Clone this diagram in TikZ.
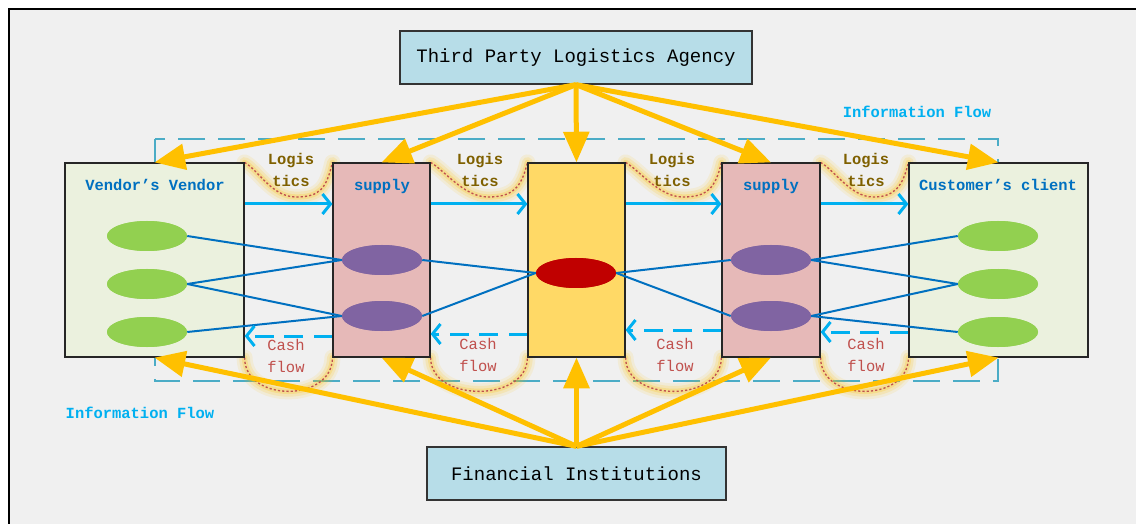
\documentclass[tikz,border=0pt]{standalone}
\usepackage{fontspec}
\newfontfamily\mono{Liberation Mono}
\usetikzlibrary{arrows.meta,shapes.geometric,calc}
\definecolor{bgc}{HTML}{F0F0F0}
\definecolor{boxblue}{HTML}{B7DDE8}
\definecolor{panelgreen}{HTML}{EBF1DE}
\definecolor{panelpink}{HTML}{E6B9B8}
\definecolor{panelyellow}{HTML}{FFD966}
\definecolor{ellgreen}{HTML}{92D050}
\definecolor{ellpurple}{HTML}{8064A2}
\definecolor{ellred}{HTML}{C00000}
\definecolor{linkblue}{HTML}{0070C0}
\definecolor{flowcyan}{HTML}{00B0F0}
\definecolor{dashblue}{HTML}{4BACC6}
\definecolor{goldarrow}{HTML}{FFC000}
\definecolor{logbrown}{HTML}{7F6000}
\definecolor{cashred}{HTML}{C0504D}
\newcommand\GlowDraw[1]{%
  \draw[glowA] #1; \draw[glowB] #1; \draw[glowC] #1; \draw[dotred] #1;}
\begin{document}
\begin{tikzpicture}[x=0.75pt,y=-0.75pt,
  bigbox/.style={draw=black!80, line width=1pt, fill=boxblue, minimum height=39.75pt,
    inner sep=0pt, font=\mono\fontsize{14.25}{17}\selectfont},
  panel/.style={draw=black!85, line width=0.9pt, minimum height=145.5pt, inner sep=0pt},
  greenell/.style={ellipse, fill=ellgreen, minimum width=60pt, minimum height=22.5pt, inner sep=0pt},
  purpleell/.style={ellipse, fill=ellpurple, minimum width=60pt, minimum height=22.5pt, inner sep=0pt},
  redell/.style={ellipse, fill=ellred, minimum width=60pt, minimum height=22.5pt, inner sep=0pt},
  link/.style={draw=linkblue, line width=1.5pt},
  fwd/.style={draw=flowcyan, line width=2.25pt, -{Straight Barb[length=6pt,width=15pt]}},
  back/.style={draw=flowcyan, line width=2.25pt, dash pattern=on 14pt off 8pt,
    -{Straight Barb[length=6pt,width=15pt]}},
  gold/.style={draw=goldarrow, line width=3.75pt, -{Triangle[length=23pt,width=19pt]}},
  infodash/.style={draw=dashblue, line width=1.1pt, dash pattern=on 20pt off 10pt},
  glowA/.style={draw=goldarrow, line width=12pt, opacity=0.10, line cap=round},
  glowB/.style={draw=goldarrow, line width=8pt, opacity=0.15, line cap=round},
  glowC/.style={draw=goldarrow, line width=4pt, opacity=0.22, line cap=round},
  dotred/.style={draw=cashred, line width=1pt, dash pattern=on 1.6pt off 1.6pt},
  panellabel/.style={font=\mono\bfseries\fontsize{11.6}{14}\selectfont, text=linkblue},
  infolabel/.style={font=\mono\bfseries\fontsize{11.6}{14}\selectfont, text=flowcyan},
  loglabel/.style={font=\mono\bfseries\fontsize{11.6}{16.5}\selectfont, text=logbrown, align=center, inner sep=0pt},
  cashlabel/.style={font=\mono\fontsize{11.6}{16}\selectfont, text=cashred, align=center, inner sep=0pt}
]
% background and frame
\useasboundingbox (0,0) rectangle (1136,524);
\fill[white] (0,0) rectangle (1136,524);
\fill[bgc] (9,9) rectangle (1136,524);
\draw[black, line width=1.5pt] (9,524) -- (9,9) -- (1136,9);

% information-flow dashed frame
\draw[infodash] (155,139) rectangle (998,381);

% panels (positions)
\node[panel, fill=panelgreen, minimum width=134.25pt] (vv) at (154.5,260) {};
\node[panel, fill=panelpink, minimum width=72.75pt] (s1) at (381.5,260) {};
\node[panel, fill=panelyellow, minimum width=72.75pt] (mid) at (576.5,260) {};
\node[panel, fill=panelpink, minimum width=73.5pt] (s2) at (771,260) {};
\node[panel, fill=panelgreen, minimum width=134.25pt] (cc) at (998.5,260) {};

% logistics and cash-flow curves
\coordinate (lb1) at (296,197);
\coordinate (lb2) at (488,197);
\coordinate (lb3) at (683,197);
\coordinate (lb4) at (873,197);
\GlowDraw{(vv.north east) .. controls +(14,8) and +(-24,0) .. (lb1) .. controls +(24,0) and +(-6,26) .. (s1.north west)}
\GlowDraw{(s1.north east) .. controls +(14,8) and +(-24,0) .. (lb2) .. controls +(24,0) and +(-6,26) .. (mid.north west)}
\GlowDraw{(mid.north east) .. controls +(14,8) and +(-24,0) .. (lb3) .. controls +(24,0) and +(-6,26) .. (s2.north west)}
\GlowDraw{(s2.north east) .. controls +(14,8) and +(-22,0) .. (lb4) .. controls +(20,0) and +(-6,26) .. (cc.north west)}
\GlowDraw{(vv.south east) .. controls +(0,45) and +(0,45) .. (s1.south west)}
\GlowDraw{(s1.south east) .. controls +(0,45) and +(0,45) .. (mid.south west)}
\GlowDraw{(mid.south east) .. controls +(0,45) and +(0,45) .. (s2.south west)}
\GlowDraw{(s2.south east) .. controls +(0,45) and +(0,45) .. (cc.south west)}

% redraw panel borders on top of glow
\node[panel, fill=panelgreen, minimum width=134.25pt] (vvb) at (154.5,260) {};
\node[panel, fill=panelpink, minimum width=72.75pt] (s1b) at (381.5,260) {};
\node[panel, fill=panelyellow, minimum width=72.75pt] (midb) at (576.5,260) {};
\node[panel, fill=panelpink, minimum width=73.5pt] (s2b) at (771,260) {};
\node[panel, fill=panelgreen, minimum width=134.25pt] (ccb) at (998.5,260) {};

% ellipses
\node[greenell] (g1) at (147,236) {};
\node[greenell] (g2) at (147,284) {};
\node[greenell] (g3) at (147,332) {};
\node[purpleell] (p1) at (382,260) {};
\node[purpleell] (p2) at (382,316) {};
\node[redell] (r) at (576,273) {};
\node[purpleell] (p3) at (771,260) {};
\node[purpleell] (p4) at (771,316) {};
\node[greenell] (g4) at (998,236) {};
\node[greenell] (g5) at (998,284) {};
\node[greenell] (g6) at (998,332) {};

% blue links
\draw[link] (g1.east) -- (p1.west);
\draw[link] (g2.east) -- (p1.west);
\draw[link] (g2.east) -- (p2.west);
\draw[link] (g3.east) -- (p2.west);
\draw[link] (p1.east) -- (r.west);
\draw[link] (p2.east) -- (r.west);
\draw[link] (r.east) -- (p3.west);
\draw[link] (r.east) -- (p4.west);
\draw[link] (p3.east) -- (g4.west);
\draw[link] (p3.east) -- (g5.west);
\draw[link] (p4.east) -- (g5.west);
\draw[link] (p4.east) -- (g6.west);
% redraw ellipses over link ends
\node[greenell] at (147,236) {};
\node[greenell] at (147,284) {};
\node[greenell] at (147,332) {};
\node[purpleell] at (382,260) {};
\node[purpleell] at (382,316) {};
\node[redell] at (576,273) {};
\node[purpleell] at (771,260) {};
\node[purpleell] at (771,316) {};
\node[greenell] at (998,236) {};
\node[greenell] at (998,284) {};
\node[greenell] at (998,332) {};

% forward (solid) and backward (dashed) cyan arrows
\coordinate (ya) at (0,204);
\coordinate (yb1) at (0,336);
\coordinate (yb2) at (0,334);
\coordinate (yb3) at (0,330);
\coordinate (yb4) at (0,332);
\draw[fwd] (vv.east |- ya) -- (s1.west |- ya);
\draw[fwd] (s1.east |- ya) -- (mid.west |- ya);
\draw[fwd] (mid.east |- ya) -- (s2.west |- ya);
\draw[fwd] (s2.east |- ya) -- (cc.west |- ya);
\draw[back] (s1.west |- yb1) -- (vv.east |- yb1);
\draw[back] (mid.west |- yb2) -- (s1.east |- yb2);
\draw[back] (s2.west |- yb3) -- (mid.east |- yb3);
\draw[back] (cc.west |- yb4) -- (s2.east |- yb4);

% labels
\node[panellabel] (vvl) at (155,185) {Vendor’s Vendor};
\node[panellabel] (s1l) at (382,187) {supply};
\node[panellabel] (s2l) at (771,187) {supply};
\node[panellabel] (ccl) at (998,185) {Customer’s client};
\node[infolabel] (inf1) at (917,112) {Information Flow};
\node[infolabel] (inf2) at (140,413) {Information Flow};
\node[loglabel] (log1) at (291,170) {Logis\\tics};
\node[loglabel] (log2) at (480,170) {Logis\\tics};
\node[loglabel] (log3) at (672,170) {Logis\\tics};
\node[loglabel] (log4) at (866,170) {Logis\\tics};
\node[cashlabel] (cash1) at (286,356) {Cash\\flow};
\node[cashlabel] (cash2) at (478,355) {Cash\\flow};
\node[cashlabel] (cash3) at (675,355) {Cash\\flow};
\node[cashlabel] (cash4) at (866,355) {Cash\\flow};

% top and bottom agencies
\node[bigbox, minimum width=264pt] (tpl) at (576,57.5) {Third Party Logistics Agency};
\node[bigbox, minimum width=224.25pt] (fin) at (576.5,473.5) {Financial Institutions};

% gold arrows
\draw[gold] (tpl.south) -- (vv.north);
\draw[gold] (tpl.south) -- (s1.north);
\draw[gold] (tpl.south) -- (mid.north);
\draw[gold] (tpl.south) -- (s2.north);
\draw[gold] (tpl.south) -- (cc.north);
\draw[gold] (fin.north) -- (vv.south);
\draw[gold] (fin.north) -- (s1.south);
\draw[gold] (fin.north) -- (mid.south);
\draw[gold] (fin.north) -- (s2.south);
\draw[gold] (fin.north) -- (cc.south);
\end{tikzpicture}
\end{document}
